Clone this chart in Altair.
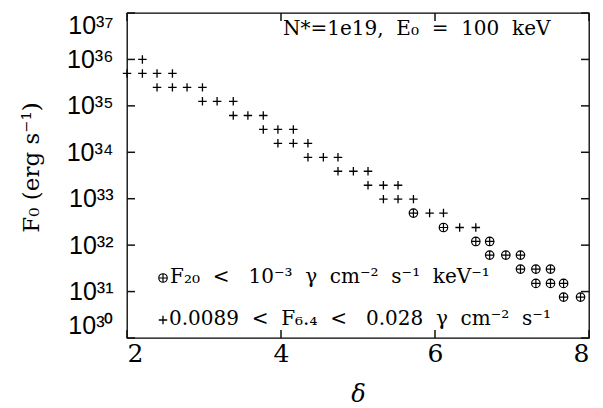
import altair as alt
import pandas as pd

# ---- data ----
plus_delta = [2.20,
              2.00, 2.20, 2.39, 2.59,
              2.39, 2.59, 2.78, 2.98,
              2.98, 3.17, 3.38,
              3.38, 3.57, 3.77,
              3.77, 3.96, 4.16,
              3.96, 4.16, 4.35,
              4.35, 4.55, 4.74,
              4.74, 4.94, 5.13,
              5.13, 5.33, 5.52,
              5.33, 5.52, 5.72,
              5.93, 6.11,
              6.32, 6.53]
plus_F0 = [1.0e36,
           5.0e35, 5.0e35, 5.0e35, 5.0e35,
           2.5e35, 2.5e35, 2.5e35, 2.5e35,
           1.25e35, 1.25e35, 1.25e35,
           6.2e34, 6.2e34, 6.2e34,
           3.1e34, 3.1e34, 3.1e34,
           1.56e34, 1.56e34, 1.56e34,
           7.8e33, 7.8e33, 7.8e33,
           3.9e33, 3.9e33, 3.9e33,
           1.95e33, 1.95e33, 1.95e33,
           9.8e32, 9.8e32, 9.8e32,
           4.9e32, 4.9e32,
           2.4e32, 2.4e32]
circ_delta = [5.72,
              6.11,
              6.53, 6.71,
              6.71, 6.92, 7.11,
              7.11, 7.31, 7.50,
              7.31, 7.50, 7.67,
              7.67, 7.89]
circ_F0 = [4.9e32,
           2.4e32,
           1.2e32, 1.2e32,
           6.1e31, 6.1e31, 6.1e31,
           3.05e31, 3.05e31, 3.05e31,
           1.5e31, 1.5e31, 1.5e31,
           7.6e30, 7.6e30]

x_ticks = [2, 4, 6, 8]
y_exps = [30, 31, 32, 33, 34, 35, 36, 37]
y_ticks = [1e30, 1e31, 1e32, 1e33, 1e34, 1e35, 1e36, 1e37]
y_labels = ["10³⁰", "10³¹", "10³²", "10³³", "10³⁴", "10³⁵", "10³⁶", "10³⁷"]

NB = "\u00a0"
top_text = f"N*=1e19,{NB} E₀{NB} ={NB} 100{NB} keV"
legend1 = f"F₂₀{NB} <{NB}{NB} 10⁻³{NB} γ{NB} cm⁻²{NB} s⁻¹{NB} keV⁻¹"
legend2 = f"0.0089{NB} <{NB} F₆.₄{NB} <{NB}{NB} 0.028{NB} γ{NB} cm⁻²{NB} s⁻¹"

# ---- build ----
W, H = 462, 325
TICK_LEN = 8

plus_df = pd.DataFrame({"delta": plus_delta, "F0": plus_F0})
circ_df = pd.DataFrame({"delta": circ_delta, "F0": circ_F0})
xt_df = pd.DataFrame({"delta": x_ticks})
yt_df = pd.DataFrame({"F0": y_ticks})
one = pd.DataFrame({"a": [0]})

PLUS = "M-1,0L1,0M0,-1L0,1"
OPLUS = "M-1,0A1,1,0,1,1,1,0A1,1,0,1,1,-1,0ZM-1,0L1,0M0,-1L0,1"

SERIF = "DejaVu Serif"
SANS = "Liberation Sans"

label_expr = ""
for e, lab in zip(y_exps, y_labels):
    label_expr += f"round(log(datum.value)/LN10) == {e} ? '{lab}' : "
label_expr += "''"

xscale = alt.Scale(domain=[2, 8], nice=False, zero=False)
yscale = alt.Scale(type="log", domain=[1e30, 1e37], nice=False)

x_bottom = alt.Axis(values=x_ticks, orient="bottom", ticks=False,
                    domain=False, grid=False,
                    labelFont=SERIF, labelFontSize=25, labelColor="black",
                    labelPadding=3, labelFlush=True,
                    title="δ", titleFont=SERIF, titleFontSize=24,
                    titleFontStyle="italic", titleFontWeight="normal",
                    titleColor="black", titlePadding=16)
y_left = alt.Axis(values=y_ticks, orient="left", ticks=False,
                  domain=False, grid=False,
                  labelFont=SANS, labelFontSize=25, labelColor="black",
                  labelPadding=14, labelFlush=True, labelExpr=label_expr,
                  title="F₀ (erg s⁻¹)", titleFont=SERIF, titleFontSize=23,
                  titleFontWeight="normal", titleColor="black",
                  titleX=-84, titleY=154)


def pts(df, shape, size, sw, xaxis=None, yaxis=None):
    return alt.Chart(df).mark_point(
        shape=shape, size=size, filled=False, stroke="black",
        strokeWidth=sw, opacity=1
    ).encode(
        x=alt.X("delta:Q", scale=xscale, axis=xaxis),
        y=alt.Y("F0:Q", scale=yscale, axis=yaxis),
    )


plus_layer = pts(plus_df, PLUS, 72, 1.3, x_bottom, y_left)
circ_layer = pts(circ_df, OPLUS, 72, 1.2)


# inward tick marks on all four sides
def xticks(center):
    return alt.Chart(xt_df).mark_tick(
        orient="vertical", size=TICK_LEN, thickness=1.5, color="#111111", opacity=1
    ).encode(x=alt.X("delta:Q", scale=xscale, axis=None), y=alt.value(center))


def yticks(center):
    return alt.Chart(yt_df).mark_tick(
        orient="horizontal", size=TICK_LEN, thickness=1.5, color="#111111", opacity=1
    ).encode(y=alt.Y("F0:Q", scale=yscale, axis=None), x=alt.value(center))


half = TICK_LEN / 2
tick_layers = [xticks(H - half), xticks(half), yticks(half), yticks(W - half)]

top_label = alt.Chart(one).mark_text(
    font=SERIF, fontSize=20, align="left", baseline="middle", color="black"
).encode(x=alt.value(156), y=alt.value(16), text=alt.value(top_text))

leg1_sym = alt.Chart(one).mark_point(
    shape=OPLUS, size=72, filled=False, stroke="black", strokeWidth=1.2, opacity=1
).encode(x=alt.value(36), y=alt.value(265))
leg1_txt = alt.Chart(one).mark_text(
    font=SERIF, fontSize=20, align="left", baseline="middle", color="black"
).encode(x=alt.value(43), y=alt.value(264), text=alt.value(legend1))

leg2_sym = alt.Chart(one).mark_point(
    shape=PLUS, size=72, filled=False, stroke="black", strokeWidth=1.3, opacity=1
).encode(x=alt.value(36), y=alt.value(307))
leg2_txt = alt.Chart(one).mark_text(
    font=SERIF, fontSize=20, align="left", baseline="middle", color="black"
).encode(x=alt.value(42), y=alt.value(306), text=alt.value(legend2))

chart = alt.layer(
    plus_layer, circ_layer, *tick_layers,
    top_label, leg1_sym, leg1_txt, leg2_sym, leg2_txt
).resolve_axis(x="independent", y="independent").properties(
    width=W, height=H,
    autosize=alt.AutoSizeParams(type="none"),
    padding={"left": 119, "top": 5, "right": 6, "bottom": 68},
    background="white",
).configure_view(stroke="black", strokeWidth=1.3)

chart.save("out.html", embed_options={"renderer": "svg", "actions": False})
